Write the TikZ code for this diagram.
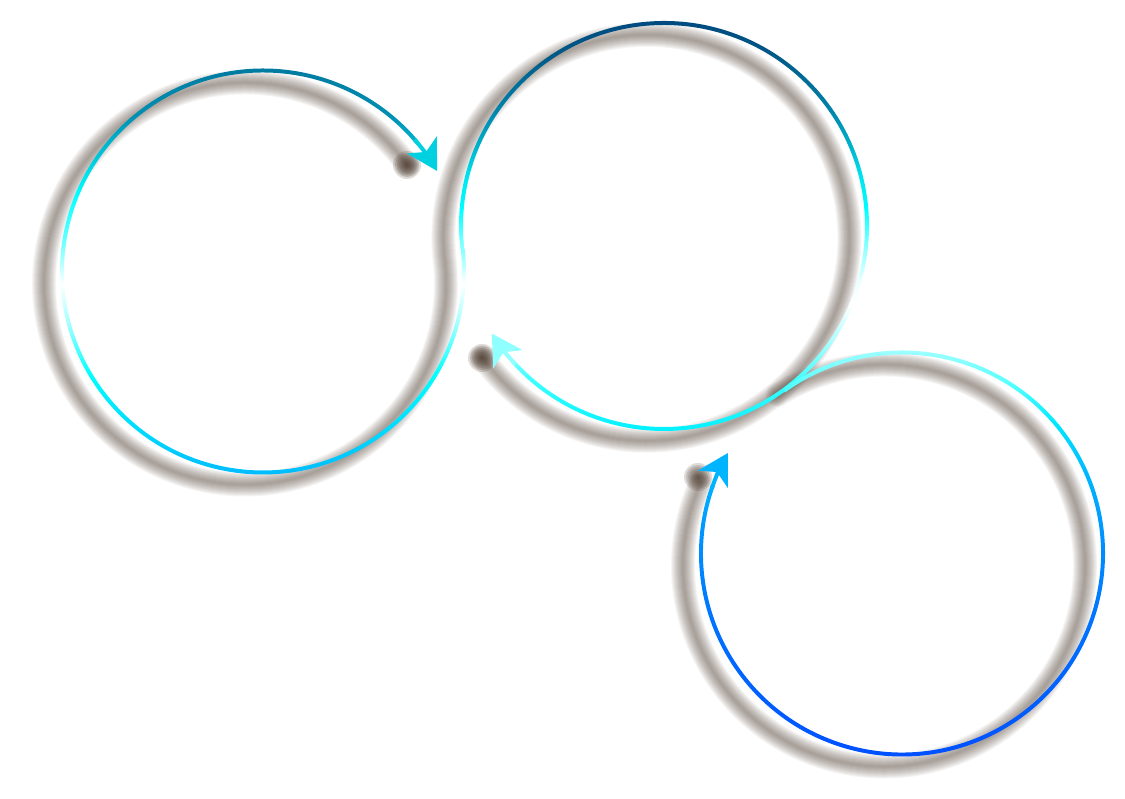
\documentclass[tikz,border=0pt]{standalone}
\usetikzlibrary{arrows.meta}

\definecolor{shadowbrown}{RGB}{70,53,40}
\definecolor{headone}{HTML}{00D0E0}
\definecolor{headtwo}{HTML}{90FFFF}
\definecolor{headthree}{HTML}{00B4FF}

\pgfdeclareverticalshading{loopone}{100bp}{%
  color(0bp)=(rgb,255:red,0;green,187;blue,255);
  color(25bp)=(rgb,255:red,0;green,187;blue,255);
  color(37.5bp)=(rgb,255:red,0;green,255;blue,255);
  color(43.5bp)=(rgb,255:red,160;green,255;blue,255);
  color(48.5bp)=(rgb,255:red,255;green,255;blue,255);
  color(53.5bp)=(rgb,255:red,112;green,255;blue,255);
  color(59.5bp)=(rgb,255:red,0;green,255;blue,255);
  color(64bp)=(rgb,255:red,0;green,200;blue,220);
  color(69bp)=(rgb,255:red,0;green,144;blue,180);
  color(75bp)=(rgb,255:red,0;green,122;blue,160);
  color(100bp)=(rgb,255:red,0;green,122;blue,160)}
\pgfdeclareverticalshading{looptwo}{100bp}{%
  color(0bp)=(rgb,255:red,0;green,240;blue,255);
  color(25bp)=(rgb,255:red,0;green,240;blue,255);
  color(31.5bp)=(rgb,255:red,64;green,255;blue,255);
  color(35.5bp)=(rgb,255:red,160;green,255;blue,255);
  color(40.5bp)=(rgb,255:red,255;green,255;blue,255);
  color(43.5bp)=(rgb,255:red,232;green,255;blue,255);
  color(48bp)=(rgb,255:red,128;green,255;blue,255);
  color(52bp)=(rgb,255:red,0;green,255;blue,255);
  color(56bp)=(rgb,255:red,0;green,228;blue,238);
  color(59.5bp)=(rgb,255:red,0;green,180;blue,204);
  color(64.5bp)=(rgb,255:red,0;green,128;blue,168);
  color(70.5bp)=(rgb,255:red,0;green,90;blue,136);
  color(75bp)=(rgb,255:red,0;green,74;blue,128);
  color(100bp)=(rgb,255:red,0;green,74;blue,128)}
\pgfdeclareverticalshading{loopthree}{100bp}{%
  color(0bp)=(rgb,255:red,0;green,80;blue,255);
  color(25bp)=(rgb,255:red,0;green,80;blue,255);
  color(35bp)=(rgb,255:red,0;green,100;blue,255);
  color(43.5bp)=(rgb,255:red,0;green,120;blue,255);
  color(51.5bp)=(rgb,255:red,0;green,144;blue,255);
  color(60bp)=(rgb,255:red,0;green,184;blue,255);
  color(66bp)=(rgb,255:red,0;green,232;blue,255);
  color(70.5bp)=(rgb,255:red,80;green,255;blue,255);
  color(75bp)=(rgb,255:red,160;green,255;blue,255);
  color(100bp)=(rgb,255:red,160;green,255;blue,255)}

\begin{document}
\begin{tikzpicture}[x=1pt, y=1pt,
    blurline/.style={draw=shadowbrown, line width=#1, line cap=round, line join=round, opacity=.05},
    blurdot/.style={fill=shadowbrown, opacity=.18},
    headtip/.style={line width=4pt, -{Stealth[length=30pt, width=34pt, inset=8pt]}}]
  \useasboundingbox (0,0) rectangle (1125,799);

  \coordinate (c1) at (263,527.5);
  \coordinate (c2) at (664,573);
  \coordinate (c3) at (902,245.5);
  \coordinate (s1) at (245,515.5);
  \coordinate (s3) at (884,233.5);

  % shadows
  \foreach \w in {2,4,...,24} {
    \draw[blurline=\w pt] (s1) ++(-324:201pt) arc[start angle=-324, end angle=6.5, radius=201pt]
      arc[start angle=186.5, end angle=-144, radius=203pt];
    \draw[blurline=\w pt] (s3) ++(122:201pt) arc[start angle=122, end angle=-204, radius=201pt];
  }
  \foreach \r in {2,4,...,14} {
    \fill[blurdot] (407,634) circle[radius=\r pt];
    \fill[blurdot] (482,441) circle[radius=\r pt];
    \fill[blurdot] (698,322) circle[radius=\r pt];
  }

  % loops
  \begin{scope}
    \clip (c1) ++(6.5:203pt) arc[start angle=6.5, end angle=-320, radius=203pt]
      -- ++(-140:4pt) arc[start angle=-320, end angle=6.5, radius=199pt] -- cycle;
    \shade[shading=loopone] (c1) ++(-210pt,-204pt) rectangle ++(420pt,408pt);
  \end{scope}
  \begin{scope}
    \clip (c2) ++(186.5:205pt) arc[start angle=186.5, end angle=-138, radius=205pt]
      -- ++(42:4pt) arc[start angle=-138, end angle=186.5, radius=201pt] -- cycle;
    \shade[shading=looptwo] (c2) ++(-212pt,-206pt) rectangle ++(424pt,412pt);
  \end{scope}
  \begin{scope}
    \clip (c3) ++(126:203pt) arc[start angle=126, end angle=-200, radius=203pt]
      -- ++(-20:4pt) arc[start angle=-200, end angle=126, radius=199pt] -- cycle;
    \shade[shading=loopthree] (c3) ++(-210pt,-204pt) rectangle ++(420pt,408pt);
  \end{scope}

  % arrow heads
  \draw[headtip, headone] (c1) ++(-319:201pt) arc[start angle=-319, end angle=-330, radius=201pt];
  \draw[headtip, headtwo] (c2) ++(-137:203pt) arc[start angle=-137, end angle=-148, radius=203pt];
  \draw[headtip, headthree] (c3) ++(-199:201pt) arc[start angle=-199, end angle=-210, radius=201pt];
\end{tikzpicture}
\end{document}
